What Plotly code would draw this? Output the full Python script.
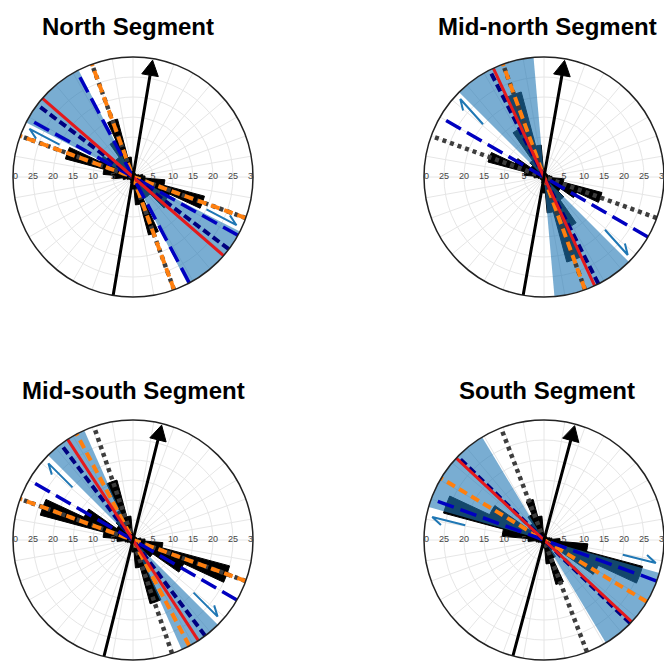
import math
import plotly.graph_objects as go

# ---- shared scales -------------------------------------------------------
BIN_ANGLES = list(range(0, 360, 10))          # rose-diagram bin centres (deg)
RING_TICKS = [5, 10, 15, 20, 25, 30]
RING_LABELS = ["5", "10", "15", "20", "25", "30"]
R_MAX = 30

TITLES = ["North Segment", "Mid-north Segment", "Mid-south Segment", "South Segment"]

# ---- fracture counts per 10-degree bin -----------------------------------
NORTH_COUNTS = [2, 1.5, 1, 1, 1, 1, 1, 1.5, 2.5, 3, 8, 18.5, 10, 11, 6, 6, 15, 7,
                3, 2, 1.5, 1, 1, 1, 1, 1.5, 2.5, 5, 7.5, 17.5, 9, 6, 6, 10, 15, 5]
MIDNORTH_COUNTS = [2, 1.5, 1, 1, 1, 1, 1, 1, 1.5, 2, 5, 15, 9, 5, 7, 14, 22, 9,
                   4, 2, 1.5, 1, 1, 1, 1, 1, 1.5, 2.5, 5, 14.5, 8, 4, 5, 13.5, 22, 8]
MIDSOUTH_COUNTS = [1.5, 1, 1, 1, 0.5, 1, 1, 1, 2, 3, 7.5, 25, 14, 6, 5, 7, 16.5, 7,
                   3, 2, 1, 1, 1, 1, 1, 1.5, 2, 4, 7.5, 24, 13.5, 5, 6, 8, 15.5, 6]
SOUTH_COUNTS = [1.5, 1, 1, 1, 1, 1, 1, 1.5, 2, 4, 11, 25.5, 15, 4, 3, 5, 11.5, 6,
                2, 1.5, 1, 1, 1, 1, 1, 1.5, 2, 4, 10.5, 26, 15, 4, 5, 7, 10.5, 6]

# ---- orientation statistics (azimuth, deg) --------------------------------
NORTH_WEDGE = [297, 333]
NORTH_GRAY = [290, 340]
NORTH_ORANGE = [290, 340]
NORTH_BLUE = [299, 332]
NORTH_NAVY = [307]
NORTH_RED = [311]
NORTH_ARROW = 9.5
NORTH_SHEAR = 298

MIDNORTH_WEDGE = [315, 355]
MIDNORTH_GRAY = [290, 340]
MIDNORTH_ORANGE = [340]
MIDNORTH_BLUE = [300]
MIDNORTH_NAVY = [333]
MIDNORTH_RED = [335]
MIDNORTH_ARROW = 10
MIDNORTH_SHEAR = 318

MIDSOUTH_WEDGE = [315, 336]
MIDSOUTH_GRAY = [290, 341]
MIDSOUTH_ORANGE = [290, 332]
MIDSOUTH_BLUE = [300]
MIDSOUTH_NAVY = [323]
MIDSOUTH_RED = [327]
MIDSOUTH_ARROW = 14
MIDSOUTH_SHEAR = 315

SOUTH_WEDGE = [286, 329]
SOUTH_GRAY = [339]
SOUTH_ORANGE = [301]
SOUTH_BLUE = [290]
SOUTH_NAVY = [314]
SOUTH_RED = [313]
SOUTH_ARROW = 15
SOUTH_SHEAR = 284

segments = [
    dict(counts=NORTH_COUNTS, wedge=NORTH_WEDGE, gray=NORTH_GRAY, orange=NORTH_ORANGE,
         blue=NORTH_BLUE, navy=NORTH_NAVY, red=NORTH_RED, arrow=NORTH_ARROW,
         shear=NORTH_SHEAR, offset=1.5),
    dict(counts=MIDNORTH_COUNTS, wedge=MIDNORTH_WEDGE, gray=MIDNORTH_GRAY, orange=MIDNORTH_ORANGE,
         blue=MIDNORTH_BLUE, navy=MIDNORTH_NAVY, red=MIDNORTH_RED, arrow=MIDNORTH_ARROW,
         shear=MIDNORTH_SHEAR, offset=2.5),
    dict(counts=MIDSOUTH_COUNTS, wedge=MIDSOUTH_WEDGE, gray=MIDSOUTH_GRAY, orange=MIDSOUTH_ORANGE,
         blue=MIDSOUTH_BLUE, navy=MIDSOUTH_NAVY, red=MIDSOUTH_RED, arrow=MIDSOUTH_ARROW,
         shear=MIDSOUTH_SHEAR, offset=1.4),
    dict(counts=SOUTH_COUNTS, wedge=SOUTH_WEDGE, gray=SOUTH_GRAY, orange=SOUTH_ORANGE,
         blue=SOUTH_BLUE, navy=SOUTH_NAVY, red=SOUTH_RED, arrow=SOUTH_ARROW,
         shear=SOUTH_SHEAR, offset=1.2),
]

# ---- page geometry (pixels) ----------------------------------------------
W, H = 664, 662
SIZE = 240
CENTERS = [(133, 177), (544, 177), (133, 540), (544, 540)]
TITLE_POS = [(128, 26), (547, 26), (133, 390), (547, 390)]

FONT = "Liberation Sans, Arial, sans-serif"


def unit(az):
    a = math.radians(az)
    return math.sin(a), math.cos(a)


def to_polar(points):
    rs, ts = [], []
    for x, y in points:
        rs.append(math.hypot(x, y))
        ts.append(math.degrees(math.atan2(x, y)) % 360)
    return rs, ts


def axial_line(az, sub, color, width, dash):
    return go.Scatterpolar(
        r=[R_MAX, 0, R_MAX], theta=[az + 180, az + 180, az], mode="lines",
        line=dict(color=color, width=width, dash=dash), subplot=sub,
        hoverinfo="skip", showlegend=False)


fig = go.Figure()

for i, seg in enumerate(segments):
    sub = "polar" if i == 0 else f"polar{i + 1}"

    # ring labels on the east-west line (clipped by the outer circle)
    fig.add_trace(go.Scatterpolar(
        r=RING_TICKS + RING_TICKS, theta=[90] * 6 + [270] * 6,
        text=RING_LABELS + RING_LABELS, mode="text", cliponaxis=True,
        textfont=dict(family=FONT, size=9, color="#444444"),
        subplot=sub, hoverinfo="skip", showlegend=False))

    # rose bars
    fig.add_trace(go.Barpolar(
        r=seg["counts"], theta=BIN_ANGLES, width=[10] * len(BIN_ANGLES),
        marker=dict(color="black", line=dict(width=1, color="black")),
        subplot=sub, hoverinfo="skip", showlegend=False))

    # confidence wedge (both ends of the axial direction)
    w0, w1 = seg["wedge"]
    mid, span = (w0 + w1) / 2, w1 - w0
    fig.add_trace(go.Barpolar(
        r=[R_MAX, R_MAX], theta=[mid, mid + 180], width=[span, span],
        marker=dict(color="rgba(31,119,180,0.6)", line=dict(width=0)),
        subplot=sub, hoverinfo="skip", showlegend=False))

    for az in seg["gray"]:
        fig.add_trace(axial_line(az, sub, "#3d3d3d", 4.5, "4px,4px"))
    for az in seg["orange"]:
        fig.add_trace(axial_line(az, sub, "#ff7f0e", 4, "9px,5px"))
    for az in seg["blue"]:
        fig.add_trace(axial_line(az, sub, "#0000c0", 3.5, "17px,7px"))
    for az in seg["navy"]:
        fig.add_trace(axial_line(az, sub, "#000080", 4, "8px,4px"))
    for az in seg["red"]:
        fig.add_trace(axial_line(az, sub, "#e41a1c", 3, "solid"))

    # north-reference arrow
    a = seg["arrow"]
    ux, uy = unit(a)
    px, py = unit(a + 90)
    tip = 29.6
    head_len, half_w = 3.8, 2.1
    bx, by = ux * (tip - head_len), uy * (tip - head_len)
    r_line, t_line = to_polar([(-ux * R_MAX, -uy * R_MAX), (0, 0), (bx, by)])
    t_line[1] = t_line[0]
    fig.add_trace(go.Scatterpolar(
        r=r_line, theta=t_line, mode="lines", line=dict(color="black", width=3),
        subplot=sub, hoverinfo="skip", showlegend=False))
    r_h, t_h = to_polar([(ux * tip, uy * tip),
                         (bx + px * half_w, by + py * half_w),
                         (bx - px * half_w, by - py * half_w),
                         (ux * tip, uy * tip)])
    fig.add_trace(go.Scatterpolar(
        r=r_h, theta=t_h, mode="lines", fill="toself", fillcolor="black",
        line=dict(color="black", width=1), subplot=sub,
        hoverinfo="skip", showlegend=False))

    # shear-sense half arrows
    for d_az in (seg["shear"], seg["shear"] + 180):
        dx, dy = unit(d_az)
        nx, ny = unit(d_az - 90)
        off = seg["offset"]
        s0, s1 = 20, 28.5
        tail = (dx * s0 + nx * off, dy * s0 + ny * off)
        head = (dx * s1 + nx * off, dy * s1 + ny * off)
        barb = (head[0] - dx * 2.6 + nx * 1.4, head[1] - dy * 2.6 + ny * 1.4)
        r_s, t_s = to_polar([tail, head, barb])
        fig.add_trace(go.Scatterpolar(
            r=r_s, theta=t_s, mode="lines", line=dict(color="#1f77b4", width=2),
            subplot=sub, hoverinfo="skip", showlegend=False))

# ---- layout --------------------------------------------------------------
layout = dict(width=W, height=H, margin=dict(l=0, r=0, t=0, b=0),
              paper_bgcolor="white", showlegend=False, annotations=[])

for i, (cx, cy) in enumerate(CENTERS):
    key = "polar" if i == 0 else f"polar{i + 1}"
    x0, x1 = (cx - SIZE / 2) / W, min((cx + SIZE / 2) / W, 1.0)
    y0, y1 = 1 - (cy + SIZE / 2) / H, 1 - (cy - SIZE / 2) / H
    layout[key] = dict(
        domain=dict(x=[x0, x1], y=[y0, y1]),
        bgcolor="white", barmode="overlay", hole=0,
        radialaxis=dict(range=[0, R_MAX], tickvals=RING_TICKS, showticklabels=False,
                        ticks="", showline=False, gridcolor="#e6e6e6", gridwidth=1),
        angularaxis=dict(rotation=90, direction="clockwise", tickmode="linear",
                         tick0=0, dtick=10, showticklabels=False, ticks="",
                         showline=True, linecolor="#222222", linewidth=1.5,
                         gridcolor="#e6e6e6", gridwidth=1),
    )

for (tx, ty), title in zip(TITLE_POS, TITLES):
    layout["annotations"].append(dict(
        text=f"<b>{title}</b>", x=tx / W, y=1 - ty / H, xref="paper", yref="paper",
        xanchor="center", yanchor="middle", showarrow=False,
        font=dict(family=FONT, size=24, color="black")))

fig.update_layout(**layout)
fig.write_html("out.html")
